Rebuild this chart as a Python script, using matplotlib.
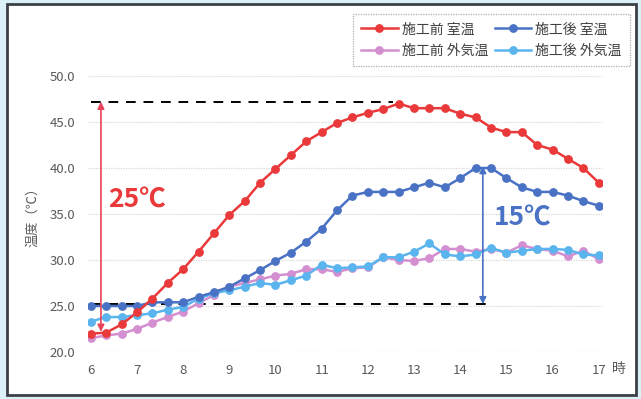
import pandas as pd
import matplotlib
matplotlib.use("Agg")
import matplotlib.pyplot as plt
from matplotlib.patches import Rectangle

plt.rcParams['font.family'] = ['Noto Sans CJK JP', 'DejaVu Sans']

# measurement times, every 20 min from 6:00 to 17:00
times = pd.date_range("2019-08-01 06:00", "2019-08-01 17:00", freq="20min")
hours = times.hour + times.minute / 60.0

# room / outdoor temperatures before and after the works [degC]
before_room = [22.0, 22.1, 23.0, 24.3, 25.8, 27.5, 29.0, 30.9, 32.9, 34.9, 36.4, 38.4,
               39.9, 41.4, 42.9, 43.9, 44.9, 45.5, 46.0, 46.4, 47.0, 46.5, 46.5, 46.5,
               45.9, 45.5, 44.4, 43.9, 43.9, 42.5, 42.0, 41.0, 40.0, 38.4]
after_room = [25.0, 25.0, 25.0, 25.0, 25.4, 25.4, 25.4, 26.0, 26.5, 27.1, 28.0, 28.9,
              29.9, 30.8, 32.0, 33.4, 35.4, 37.0, 37.4, 37.4, 37.4, 37.9, 38.4, 37.9,
              38.9, 40.0, 40.0, 38.9, 37.9, 37.4, 37.4, 37.0, 36.4, 35.9]
before_out = [21.5, 21.8, 22.0, 22.5, 23.2, 23.8, 24.4, 25.3, 26.2, 27.1, 27.5, 27.9,
              28.3, 28.5, 29.0, 29.0, 28.7, 29.1, 29.2, 30.3, 30.0, 29.9, 30.2, 31.2,
              31.2, 30.9, 31.2, 30.8, 31.6, 31.2, 31.0, 30.4, 31.0, 30.1]
after_out = [23.3, 23.8, 23.8, 24.0, 24.2, 24.6, 24.9, 25.8, 26.4, 26.7, 27.1, 27.5,
             27.3, 27.8, 28.3, 29.5, 29.1, 29.2, 29.3, 30.3, 30.3, 30.9, 31.8, 30.6,
             30.4, 30.6, 31.3, 30.8, 31.0, 31.2, 31.2, 31.1, 30.6, 30.5]

x_ticks = [6, 7, 8, 9, 10, 11, 12, 13, 14, 15, 16, 17]
y_ticks = [20, 25, 30, 35, 40, 45, 50]

# reference levels for the difference arrows
peak_level = 47.2
base_level = 25.2
red_drop = 25
blue_drop = 15

c_red = '#e9393a'
c_blue = '#4a72c4'
c_pink = '#d48fd0'
c_lblue = '#5ab4ee'

fig = plt.figure(figsize=(6.41, 3.99), dpi=100, facecolor='#dcf0f8')
fig.patches.append(Rectangle((7 / 641, 1 - 395 / 399), 629 / 641, 391 / 399,
                             transform=fig.transFigure, facecolor='white',
                             edgecolor='#3c4046', linewidth=2, zorder=-1))

ax = fig.add_axes([88 / 641, 1 - 352 / 399, 514 / 641, 276 / 399])
ax.set_facecolor('none')

style = dict(linewidth=1.8, marker='o', markersize=5.3)
l_po, = ax.plot(hours, before_out, color=c_pink, label='施工前 外気温', **style)
l_ao, = ax.plot(hours, after_out, color=c_lblue, label='施工後 外気温', **style)
l_ar, = ax.plot(hours, after_room, color=c_blue, label='施工後 室温', **style)
l_pr, = ax.plot(hours, before_room, color=c_red, label='施工前 室温', **style)

# dashed reference lines
ax.plot([6, 12.55], [peak_level, peak_level], color='black', linestyle=(0, (5, 4)),
        linewidth=1.4, zorder=1)
ax.plot([6, 14.6], [base_level, base_level], color='black', linestyle=(0, (5, 4)),
        linewidth=1.4, zorder=1)

# difference arrows
ax.annotate('', xy=(6.22, peak_level - red_drop), xytext=(6.22, peak_level),
            arrowprops=dict(arrowstyle='<|-|>', color='#e8445a', lw=1.2,
                            mutation_scale=10, shrinkA=0, shrinkB=0), zorder=6)
ax.annotate('', xy=(14.49, base_level), xytext=(14.49, base_level + blue_drop),
            arrowprops=dict(arrowstyle='<|-|>', color=c_blue, lw=1.2,
                            mutation_scale=10, shrinkA=0, shrinkB=0), zorder=6)
ax.text(6.38, 36.5, '%d℃' % red_drop, color=c_red, fontsize=19, fontweight='bold',
        va='center', ha='left')
ax.text(14.72, 34.6, '%d℃' % blue_drop, color=c_blue, fontsize=19, fontweight='bold',
        va='center', ha='left')

ax.set_xlim(5.94, 17.07)
ax.set_ylim(20, 50)
ax.set_xticks(x_ticks)
ax.set_yticks(y_ticks)
ax.set_yticklabels(['%.1f' % v for v in y_ticks])
ax.tick_params(length=0, labelsize=9.5, labelcolor='#595959')
ax.tick_params(axis='x', pad=9)
ax.tick_params(axis='y', pad=9)
ax.grid(axis='y', color='#d9d9d9', linestyle=(0, (1, 1)), linewidth=0.9)
for s in ax.spines.values():
    s.set_visible(False)

ax.set_ylabel('温度（℃）', fontsize=9.5, color='#595959', labelpad=8)
fig.text(612 / 641, 1 - 369 / 399, '時', fontsize=10, color='#595959',
         va='center', ha='left')

leg = fig.legend(handles=[l_pr, l_po, l_ar, l_ao], ncol=2, loc='upper right',
                 bbox_to_anchor=(630 / 641, 1 - 14 / 399), borderaxespad=0,
                 frameon=True, fancybox=False, fontsize=10, handlelength=2.6,
                 handletextpad=0.3, columnspacing=0.5, borderpad=0.6,
                 labelspacing=0.55)
leg.get_frame().set_edgecolor('#9a9a9a')
leg.get_frame().set_linestyle((0, (1, 1)))
leg.get_frame().set_linewidth(0.9)
for t in leg.get_texts():
    t.set_color('#404040')

fig.savefig('out.png', dpi=100, facecolor=fig.get_facecolor())
